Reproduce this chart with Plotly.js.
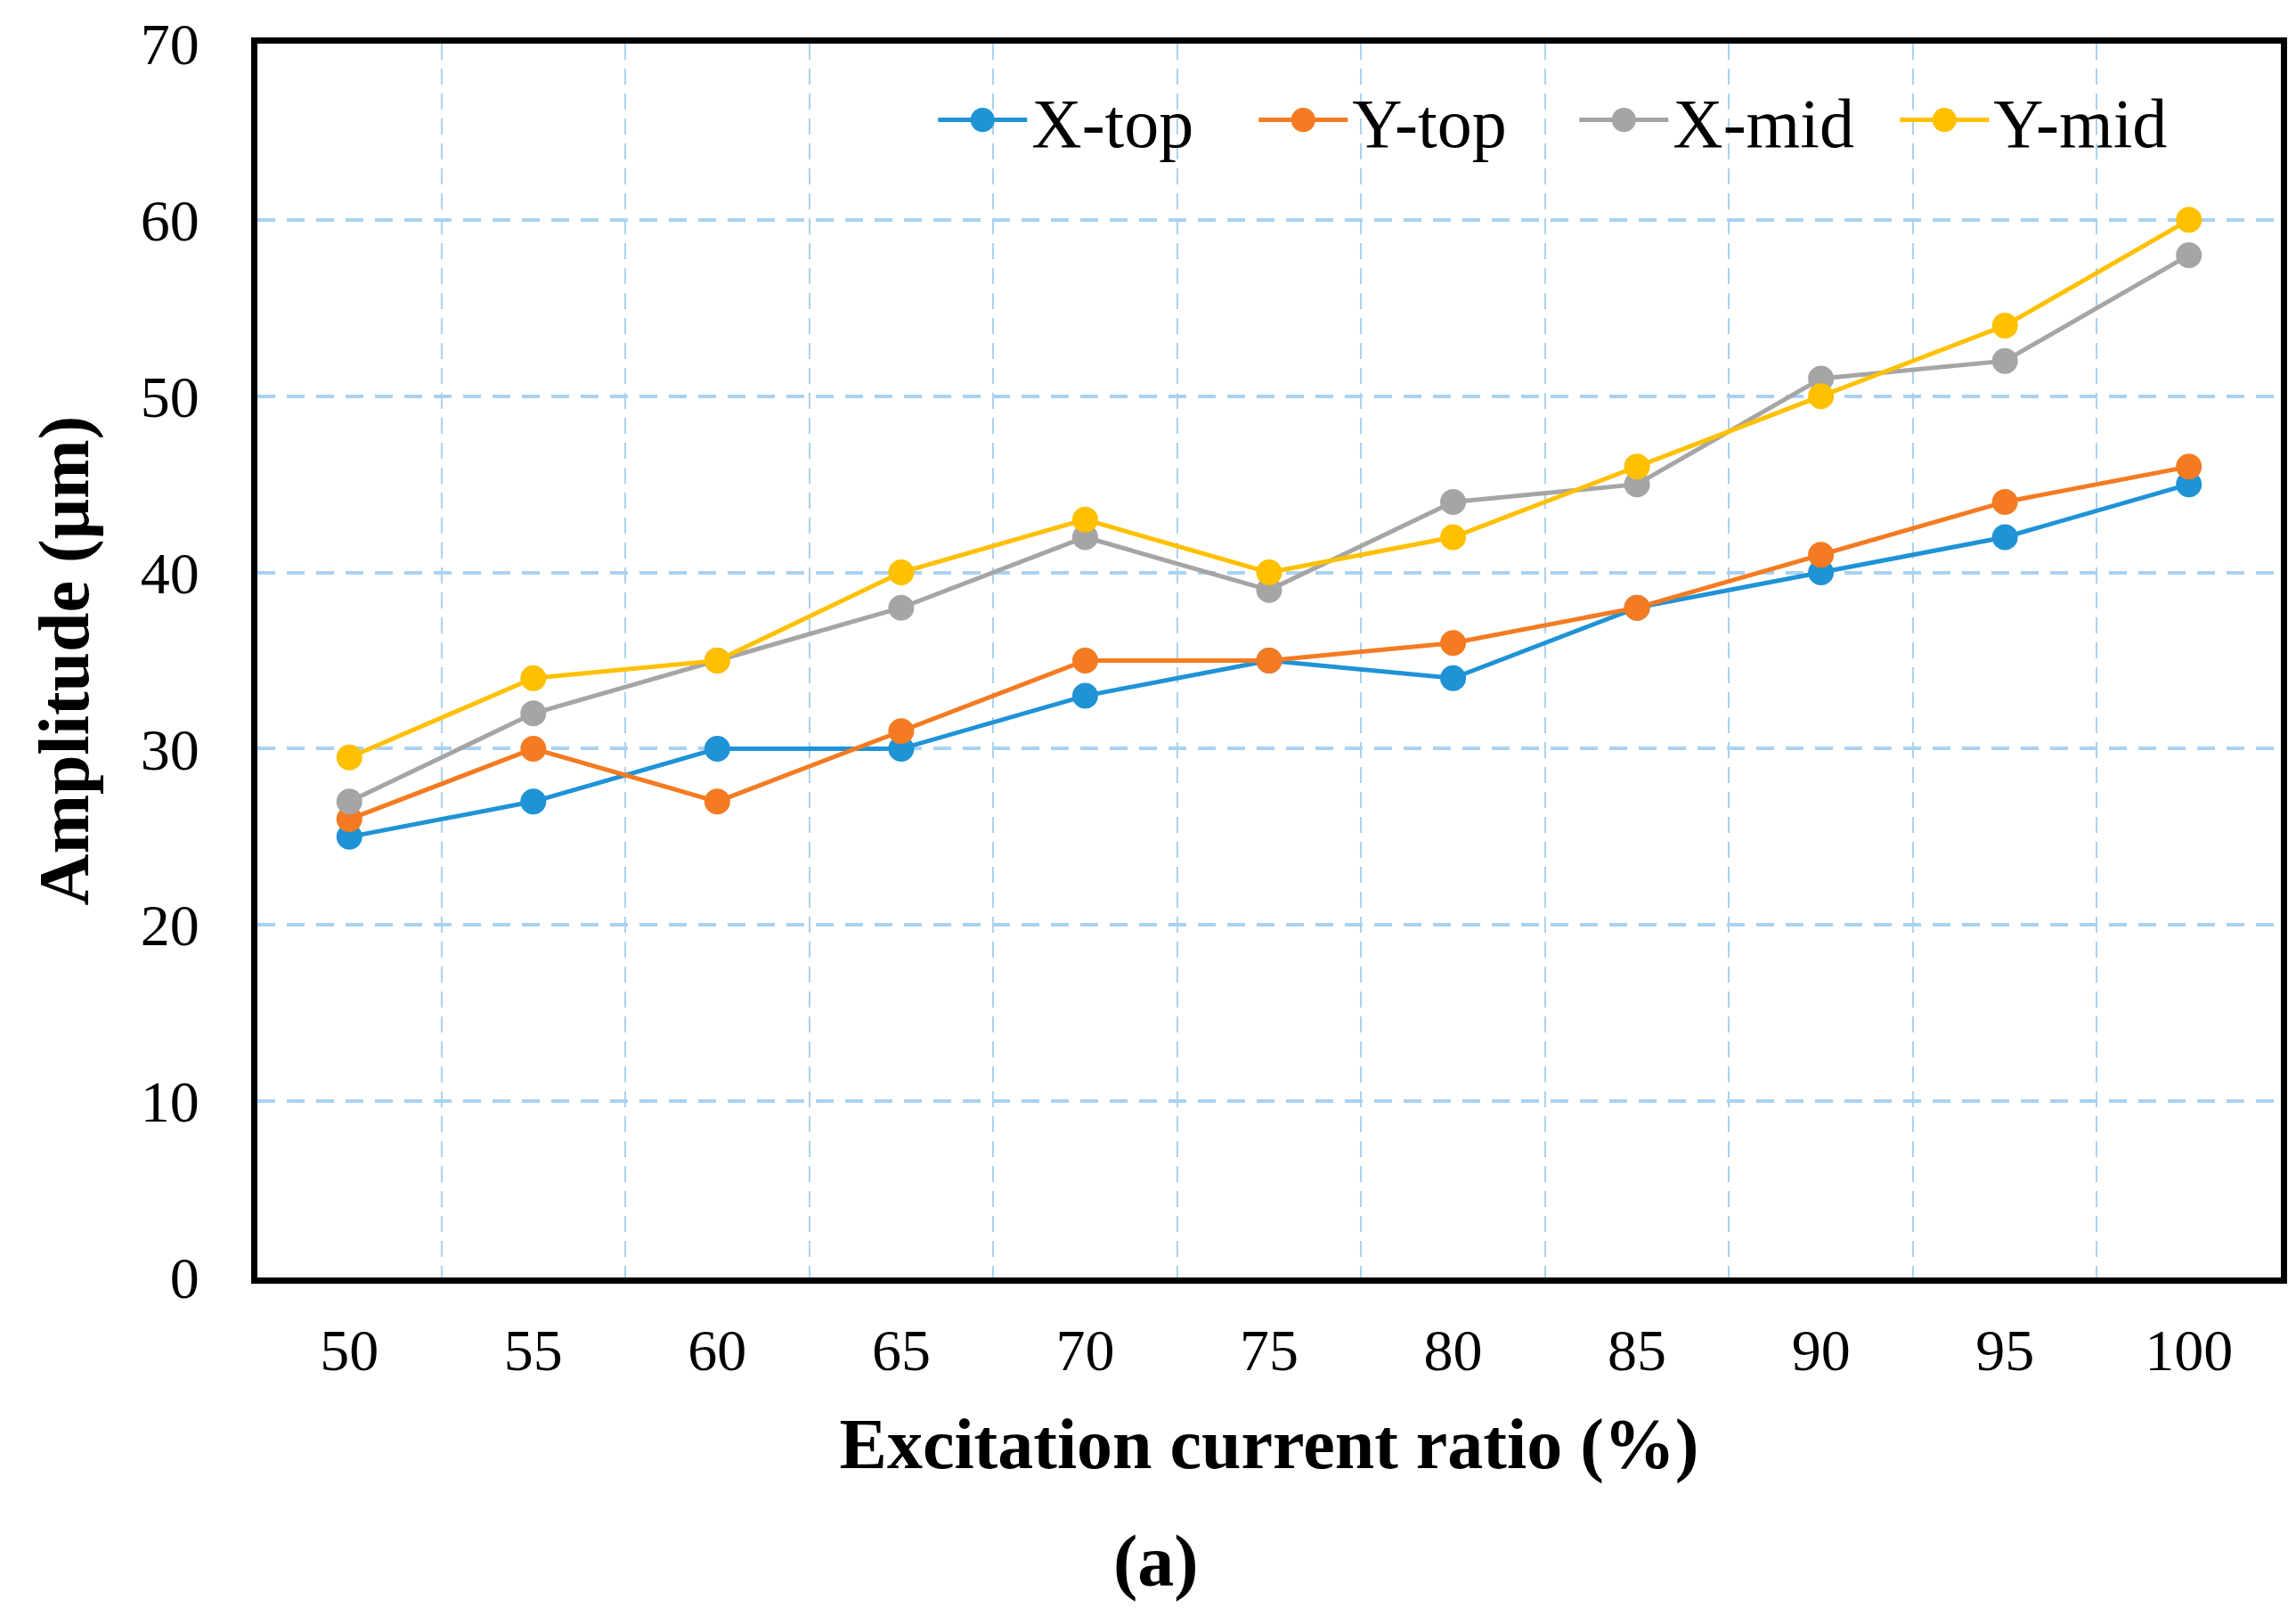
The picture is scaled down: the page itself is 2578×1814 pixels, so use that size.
<!DOCTYPE html>
<html>
<head>
<meta charset="utf-8">
<script src="https://cdn.plot.ly/plotly-3.0.1.min.js"></script>
<style>
  html, body { margin: 0; padding: 0; background: #ffffff; }
  #chart { width: 2578px; height: 1814px; }
</style>
</head>
<body>
<div id="chart"></div>
<script>
// ---- data ----
const categories = [50, 55, 60, 65, 70, 75, 80, 85, 90, 95, 100];
const xTop = [25, 27, 30, 30, 33, 35, 34, 38, 40, 42, 45];
const yTop = [26, 30, 27, 31, 35, 35, 36, 38, 41, 44, 46];
const xMid = [27, 32, 35, 38, 42, 39, 44, 45, 51, 52, 58];
const yMid = [29.5, 34, 35, 40, 43, 40, 42, 46, 50, 54, 60];
const seriesNames = ["X-top", "Y-top", "X-mid", "Y-mid"];
const seriesColors = ["#1f93d6", "#f47b22", "#a5a5a5", "#ffc000"];
const yTicks = [0, 10, 20, 30, 40, 50, 60, 70];

const step = categories[1] - categories[0];
const betweenCats = categories.slice(0, -1).map(c => c + step / 2);

const FONT = "'Liberation Serif', 'Times New Roman', serif";
const seriesValues = [xTop, yTop, xMid, yMid];

const traces = seriesValues.map((vals, i) => ({
  type: "scatter",
  mode: "lines+markers",
  name: seriesNames[i],
  x: categories,
  y: vals,
  line: { color: seriesColors[i], width: 5 },
  marker: { color: seriesColors[i], size: 29, symbol: "circle" }
}));

const gridBlue = "#a9d2f0";

const layout = {
  width: 2578,
  height: 1814,
  paper_bgcolor: "#ffffff",
  plot_bgcolor: "#ffffff",
  margin: { l: 289, r: 17, t: 49, b: 380, pad: 0 },
  font: { family: FONT, color: "#000000", size: 66 },
  showlegend: true,
  legend: {
    orientation: "h",
    x: 0.968, xanchor: "right",
    y: 0.938, yanchor: "middle",
    font: { family: FONT, size: 78, color: "#000000" },
    bgcolor: "rgba(0,0,0,0)",
    itemwidth: 100,
    entrywidth: 245,
    itemsizing: "trace",
    tracegroupgap: 0
  },
  xaxis: {
    range: [categories[0] - step / 2, categories[categories.length - 1] + step / 2],
    tickmode: "array",
    tickvals: categories,
    ticktext: categories.map(String),
    ticks: "",
    ticklabelstandoff: 18,
    tickfont: { family: FONT, size: 66, color: "#000000" },
    showgrid: false,
    zeroline: false,
    showline: true,
    linecolor: "#000000",
    linewidth: 7,
    mirror: true,
    minor: {
      tickmode: "array",
      tickvals: betweenCats,
      showgrid: true,
      gridcolor: gridBlue,
      gridwidth: 2,
      griddash: "18px,10px",
      ticks: ""
    },
    title: {
      text: "<b>Excitation current ratio (%)</b>",
      font: { family: FONT, size: 80, color: "#000000" },
      standoff: 43
    }
  },
  yaxis: {
    range: [yTicks[0], yTicks[yTicks.length - 1]],
    tickmode: "array",
    tickvals: yTicks,
    ticktext: yTicks.map(String),
    ticks: "",
    ticklabelstandoff: 45,
    tickfont: { family: FONT, size: 66, color: "#000000" },
    showgrid: true,
    gridcolor: gridBlue,
    gridwidth: 4,
    griddash: "20px,13px",
    zeroline: false,
    showline: true,
    linecolor: "#000000",
    linewidth: 7,
    mirror: true,
    title: {
      text: "<b>Amplitude (μm)</b>",
      font: { family: FONT, size: 80, color: "#000000" },
      standoff: 34
    }
  },
  annotations: [{
    xref: "paper", yref: "paper",
    x: 0.4443, y: -0.230,
    xanchor: "center", yanchor: "middle",
    showarrow: false,
    text: "<b>(a)</b>",
    font: { family: FONT, size: 82, color: "#000000" }
  }]
};

Plotly.newPlot("chart", traces, layout, { displayModeBar: false, staticPlot: true }).then(gd => {
  // enlarge the legend markers to match the reference (Plotly caps them at 16px)
  gd.querySelectorAll(".legend .legendpoints path.scatterpts").forEach(p => {
    const t = p.getAttribute("transform") || "";
    p.setAttribute("transform", t + " scale(1.7)");
  });
});
</script>
</body>
</html>
